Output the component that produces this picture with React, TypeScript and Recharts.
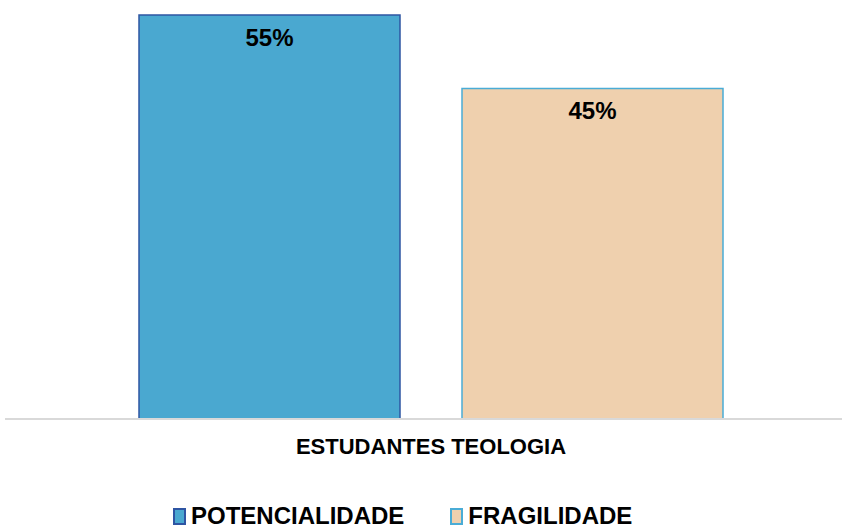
import { BarChart, Bar, XAxis, YAxis, LabelList } from 'recharts';

const categories = ['ESTUDANTES TEOLOGIA'];
const potencialidade = [55];
const fragilidade = [45];
const seriesNames = ['POTENCIALIDADE', 'FRAGILIDADE'];

const data = categories.map((name, i) => ({
  name,
  potencialidade: potencialidade[i],
  fragilidade: fragilidade[i],
}));

const FONT = "'Liberation Sans', Arial, sans-serif";

const legendItems = [
  { name: seriesNames[0], fill: '#4AA8D0', stroke: '#2E55A3' },
  { name: seriesNames[1], fill: '#EFD0AE', stroke: '#4AACD6' },
];

export default function App() {
  return (
    <div style={{ position: 'fixed', left: 0, top: 0, width: 842, height: 529, overflow: 'hidden', background: '#fff' }}>
      <BarChart
        width={857}
        height={529}
        data={data}
        margin={{ top: 15, right: 0, left: 5, bottom: 70 }}
        barGap={62}
        barSize={261}
      >
        <YAxis hide domain={[0, 55]} />
        <XAxis
          dataKey="name"
          height={40}
          axisLine={{ stroke: '#D9D9D9', strokeWidth: 2 }}
          tickLine={false}
          tickSize={0}
          tickMargin={19}
          tick={{ fill: '#000', fontSize: 22, fontWeight: 700, fontFamily: FONT }}
        />
        <Bar dataKey="potencialidade" fill="#4AA8D0" stroke="#2E55A3" strokeWidth={1.5} isAnimationActive={false}>
          <LabelList
            dataKey="potencialidade"
            position="insideTop"
            offset={14}
            formatter={(v: number) => `${v}%`}
            style={{ fill: '#000', fontSize: 24, fontWeight: 700, fontFamily: FONT }}
          />
        </Bar>
        <Bar dataKey="fragilidade" fill="#EFD0AE" stroke="#4AACD6" strokeWidth={1.5} isAnimationActive={false}>
          <LabelList
            dataKey="fragilidade"
            position="insideTop"
            offset={14}
            formatter={(v: number) => `${v}%`}
            style={{ fill: '#000', fontSize: 24, fontWeight: 700, fontFamily: FONT }}
          />
        </Bar>
      </BarChart>
      <div
        style={{
          position: 'absolute',
          left: 173,
          top: 506,
          height: 20,
          display: 'flex',
          alignItems: 'center',
          fontFamily: FONT,
          fontSize: 24,
          fontWeight: 700,
          lineHeight: '20px',
          color: '#000',
          whiteSpace: 'nowrap',
        }}
      >
        {legendItems.map((item, i) => (
          <div key={item.name} style={{ display: 'flex', alignItems: 'center', marginRight: i === 0 ? 46 : 0 }}>
            <span
              style={{
                display: 'inline-block',
                width: 9,
                height: 13,
                background: item.fill,
                border: `2px solid ${item.stroke}`,
                marginRight: 5,
              }}
            />
            <span>{item.name}</span>
          </div>
        ))}
      </div>
    </div>
  );
}
